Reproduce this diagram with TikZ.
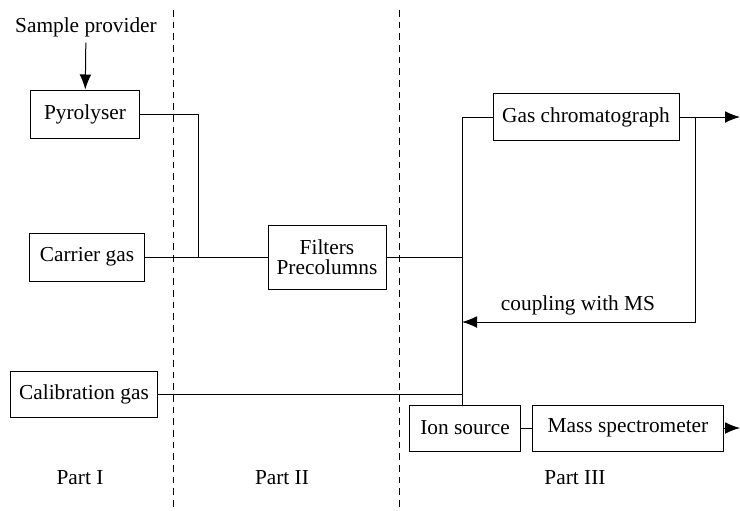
\documentclass[tikz,border=0pt]{standalone}
\usepackage{fontspec}
\setmainfont{Liberation Serif}
\usetikzlibrary{arrows.meta, positioning}

\begin{document}
\begin{tikzpicture}[
    x=0.6pt, y=-0.6pt,
    box/.style={rectangle, draw=black, line width=0.6pt, minimum height=28.8pt, align=center, font=\fontsize{12.8}{14}\selectfont},
    lbl/.style={font=\fontsize{12.8}{14}\selectfont},
    line/.style={line width=0.6pt},
    arrow/.style={line width=0.6pt, -{Latex[length=9pt, width=7pt]}},
    divider/.style={line width=0.6pt, dash pattern=on 4pt off 3pt}
]
\useasboundingbox (0,0) rectangle (740,511);

% Part I
\node[lbl] (sample) at (86,27) {Sample provider};
\node[box, minimum width=66pt] (pyro) at (85,114) {Pyrolyser};
\node[box, minimum width=69pt] (carrier) at (87,257) {Carrier gas};
\node[box, minimum width=88.8pt, minimum height=27.6pt] (calib) at (84,394) {Calibration gas};

% Part II
\node[box, minimum width=70.8pt, minimum height=38.4pt] (filters) at (327,257) {Filters\\[-2pt]Precolumns};

% Part III
\node[box, minimum width=111.6pt, minimum height=28.2pt] (gc) at (586,117) {Gas chromatograph};
\node[box, minimum width=66.6pt, minimum height=27.6pt] (ion) at (465,428) {Ion source};
\node[box, minimum width=114.6pt, minimum height=27.6pt, right=6.6pt of ion] (ms) {Mass spectrometer};
\node[lbl] (coupling) at (578,305) {coupling with MS};

% Part labels
\node[lbl] (p1) at (80,478) {Part I};
\node[lbl] (p2) at (282,478) {Part II};
\node[lbl] (p3) at (575,478) {Part III};

% Dividers
\draw[divider] (173,10) -- (173,511);
\draw[divider] (399,10) -- (399,511);

% Junctions and outlets
\coordinate (jmix) at (198,257);
\coordinate (bus) at (462,117);
\coordinate (jcal) at (462,394);
\coordinate (jret) at (462,322);
\coordinate (jgc) at (695,117);
\coordinate (gcout) at (740,117);
\coordinate (msout) at (740,428);

% Connections
\draw[arrow] (sample) -- (pyro);
\draw[line] (pyro.east) -| (jmix);
\draw[line] (carrier) -- (filters);
\draw[line] (filters.east) -- (filters.east -| bus);
\draw[line] (gc.west) -- (bus) -- (ion.north -| bus);
\draw[line] (calib) -- (jcal);
\draw[arrow] (gc.east) -- (gcout);
\draw[arrow] (jgc) |- (jret);
\draw[line] (ion) -- (ms);
\draw[arrow] (ms) -- (msout);

\end{tikzpicture}
\end{document}
